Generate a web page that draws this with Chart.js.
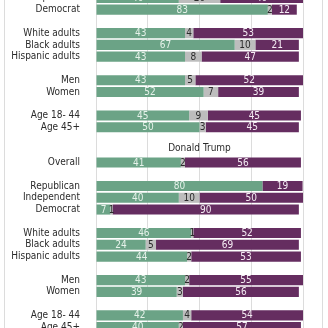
<!DOCTYPE html>
<html>
<head>
<meta charset="utf-8">
<script src="https://cdn.jsdelivr.net/npm/chart.js@4"></script>
<style>
  html, body { margin: 0; padding: 0; width: 328px; height: 328px; overflow: hidden; background: #fff; }
  #frame { position: absolute; left: 4px; top: -20px; width: 319px; height: 370px; border: 1px solid #dcdcdc; box-sizing: border-box; }
  #wrap { position: absolute; left: 0; top: -7.6px; width: 328px; height: 341px; }
</style>
</head>
<body>
<div id="frame"></div>
<div id="wrap"><canvas id="chart"></canvas></div>
<script>
// rows, top to bottom ('' = spacer, HEADER = section title row)
const HEADER = 'Donald Trump';
const categories = [
  'Independent', 'Democrat', '',
  'White adults', 'Black adults', 'Hispanic adults', '',
  'Men', 'Women', '',
  'Age 18- 44', 'Age 45+', '',
  HEADER, 'Overall', '',
  'Republican', 'Independent', 'Democrat', '',
  'White adults', 'Black adults', 'Hispanic adults', '',
  'Men', 'Women', '',
  'Age 18- 44', 'Age 45+'
];

const favorable = [
  40, 83, null,
  43, 67, 43, null,
  43, 52, null,
  45, 50, null,
  null, 41, null,
  80.4, 40, 7, null,
  46, 24, 44, null,
  43, 39, null,
  42, 40
];
const noOpinion = [
  20, 2, null,
  4, 10, 8, null,
  5, 7, null,
  9, 3, null,
  null, 2, null,
  0, 10, 1, null,
  1, 5, 2, null,
  2, 3, null,
  4, 2
];
const unfavorable = [
  40, 12, null,
  53, 21, 47, null,
  52, 39, null,
  45, 45, null,
  null, 56, null,
  19.4, 50, 90, null,
  52, 69, 53, null,
  55, 56, null,
  54, 57
];

const xTicks = [0, 25, 50, 75, 100];

const GREEN = '#6ba386';
const GREY = '#bdbdbd';
const PURPLE = '#652d60';
const FONT = "'Liberation Sans Narrow', 'DejaVu Sans Condensed', sans-serif";

const valueLabels = {
  id: 'valueLabels',
  afterDatasetsDraw(chart) {
    const ctx = chart.ctx;
    ctx.save();
    ctx.font = '10px ' + FONT;
    ctx.textAlign = 'center';
    ctx.textBaseline = 'middle';
    chart.data.datasets.forEach((ds, i) => {
      const meta = chart.getDatasetMeta(i);
      meta.data.forEach((el, j) => {
        const v = ds.data[j];
        if (v == null || v <= 0) return;
        ctx.fillStyle = ds.labelColor;
        ctx.fillText(Math.round(v), (el.x + el.base) / 2, el.y + 0.5);
      });
    });
    // section title
    const y = chart.scales.y.getPixelForValue(categories.indexOf(HEADER));
    const a = chart.chartArea;
    ctx.fillStyle = '#2b2b2b';
    ctx.fillText(HEADER, (a.left + a.right) / 2, y - 2.5);
    ctx.restore();
  }
};

new Chart(document.getElementById('chart'), {
  type: 'bar',
  data: {
    labels: categories,
    datasets: [
      { label: 'Favorable', data: favorable, backgroundColor: GREEN, labelColor: '#e6f2ea' },
      { label: 'No opinion', data: noOpinion, backgroundColor: GREY, labelColor: '#2b2b2b' },
      { label: 'Unfavorable', data: unfavorable, backgroundColor: PURPLE, labelColor: '#f4ecf3' }
    ]
  },
  options: {
    indexAxis: 'y',
    responsive: true,
    maintainAspectRatio: false,
    animation: false,
    barPercentage: 0.86,
    categoryPercentage: 1,
    layout: { padding: { left: 0, right: 25, top: 0, bottom: 0 } },
    plugins: { legend: { display: false }, tooltip: { enabled: false } },
    scales: {
      x: {
        stacked: true,
        min: 0,
        max: 100,
        afterBuildTicks: s => { s.ticks = xTicks.map(v => ({ value: v })); },
        afterFit: s => { s.height = 0; s.paddingLeft = 0; s.paddingRight = 0; s.paddingTop = 0; s.paddingBottom = 0; },
        ticks: { display: false },
        grid: { color: '#dcdcdc', drawTicks: false },
        border: { display: false }
      },
      y: {
        stacked: true,
        afterFit: s => { s.width = 96; s.paddingTop = 0; s.paddingBottom = 0; },
        ticks: {
          autoSkip: false,
          padding: 8,
          color: '#2b2b2b',
          font: { family: FONT, size: 10 },
          callback: function (v) {
            const l = categories[v];
            return l === HEADER ? '' : l;
          }
        },
        grid: { display: false },
        border: { display: false }
      }
    }
  },
  plugins: [valueLabels]
});
</script>
</body>
</html>
